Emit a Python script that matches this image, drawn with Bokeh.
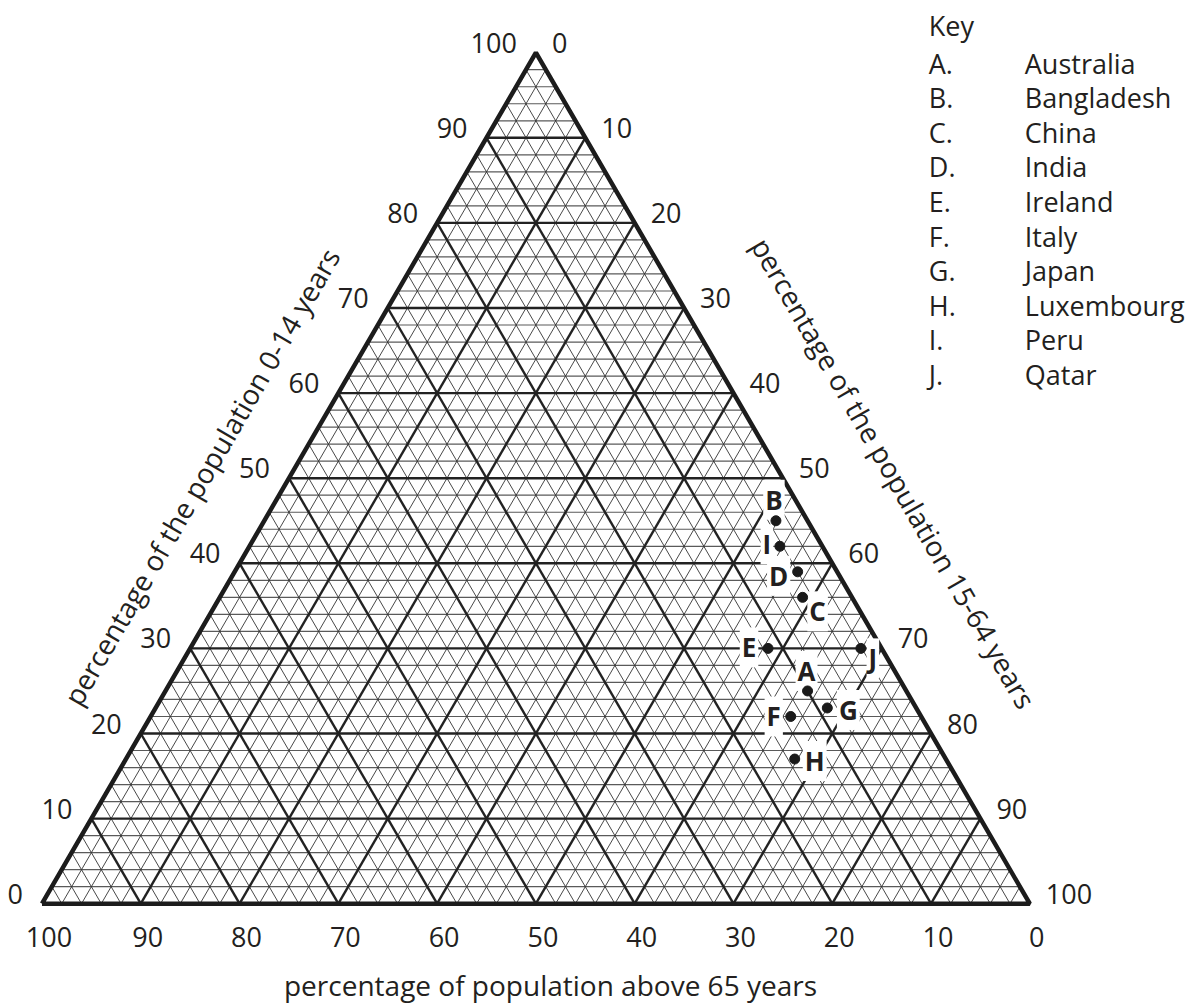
import numpy as np
from bokeh.plotting import figure
from bokeh.models import Range1d, ColumnDataSource
from bokeh.core.properties import value
from bokeh.embed import file_html
from bokeh.resources import INLINE

# ---------------- data ----------------
codes = ["A", "B", "C", "D", "E", "F", "G", "H", "I", "J"]
countries = ["Australia", "Bangladesh", "China", "India", "Ireland",
             "Italy", "Japan", "Luxembourg", "Peru", "Qatar"]
pct_0_14 = [25, 45, 36, 39, 30, 22, 23, 17, 42, 30]
pct_15_64 = [65, 51.8, 59, 57, 58.5, 64.8, 68, 67.7, 53.7, 67.9]
pct_65_plus = [10, 3.2, 5, 4, 11.5, 13.2, 9, 15.3, 4.3, 2.1]

tick_values = [0, 10, 20, 30, 40, 50, 60, 70, 80, 90, 100]
tick_labels = [str(v) for v in tick_values]

title_left = "percentage of the population 0-14 years"
title_right = "percentage of the population 15-64 years"
title_bottom = "percentage of population above 65 years"
key_title = "Key"

# ---------------- layout / style ----------------
FONT = value("Open Sans")
INK = "#231f20"
W, H = 1196, 1003
X0, XS = 41.5, 9.878      # page px of base-left vertex, px per base unit
Y0, YS = 903.2, 8.51      # page px of base line, px per height unit

def dx(px):
    return (px - X0) / XS

def dy(py):
    return (Y0 - py) / YS

# label offsets in screen px (dx, dy) for point letters
label_offsets = {"A": (-1, -20), "B": (-2, -21), "C": (15, 14), "D": (-19, 4),
                 "E": (-19, -1), "F": (-17, 0), "G": (21, 2), "H": (20, 2),
                 "I": (-13, -2), "J": (12, 10)}

p = figure(width=W, height=H,
           x_range=Range1d(dx(0), dx(W)),
           y_range=Range1d(dy(H), dy(0)),
           x_axis_type=None, y_axis_type=None,
           output_backend="svg", toolbar_location=None, min_border=0)
p.grid.visible = False
p.outline_line_color = None
p.background_fill_color = "white"
p.border_fill_color = "white"

# ---------------- ternary grid ----------------
minor_vals = [v for v in range(2, 100, 2) if v % 10]
major_vals = list(range(10, 100, 10))

def lines_a(vals):   # constant 0-14 share (horizontal)
    return [[v / 2, 100 - v / 2] for v in vals], [[v, v] for v in vals]

def lines_b(vals):   # constant 15-64 share (parallel to left side)
    return [[v, 50 + v / 2] for v in vals], [[0, 100 - v] for v in vals]

def lines_c(vals):   # constant 65+ share (parallel to right side)
    return [[100 - v, (100 - v) / 2] for v in vals], [[0, 100 - v] for v in vals]

xs, ys = lines_a(minor_vals)
p.multi_line(xs, ys, line_color="#5a5a5a", line_width=1.2)
for fn in (lines_b, lines_c):
    xs, ys = fn(minor_vals)
    p.multi_line(xs, ys, line_color="#333333", line_width=0.9)
for fn in (lines_a, lines_b, lines_c):
    xs, ys = fn(major_vals)
    p.multi_line(xs, ys, line_color="#222222", line_width=2.4)

p.line([0, 100, 50, 0], [0, 0, 100, 0], line_color="#1c1c1c",
       line_width=4.5, line_join="bevel")

# ---------------- tick labels ----------------
tick_kw = dict(text_font=FONT, text_font_size="27px", text_color=INK,
               text_baseline="middle")
p.text(x=[v / 2 for v in tick_values], y=tick_values, text=tick_labels,
       text_align="right", x_offset=-19, y_offset=-10, **tick_kw)
p.text(x=[50 + v / 2 for v in tick_values], y=[100 - v for v in tick_values],
       text=tick_labels, text_align="left", x_offset=16, y_offset=-10, **tick_kw)
p.text(x=[100 - v for v in tick_values], y=[0] * len(tick_values),
       text=tick_labels, text_align="center", x_offset=7, y_offset=33.5, **tick_kw)

# ---------------- axis titles ----------------
title_kw = dict(text_font=FONT, text_font_size="28px", text_color=INK,
                text_align="center", text_baseline="middle")
p.text(x=[dx(201)], y=[dy(476)], text=[title_left], angle=np.pi / 3, **title_kw)
p.text(x=[dx(893.5)], y=[dy(472.5)], text=[title_right], angle=-np.pi / 3, **title_kw)
p.text(x=[dx(550)], y=[dy(984)], text=[title_bottom], **title_kw)

# ---------------- points ----------------
px = [b + a / 2 for a, b in zip(pct_0_14, pct_15_64)]
py = list(pct_0_14)
src = ColumnDataSource(dict(
    x=px, y=py, code=codes, country=countries,
    ox=[label_offsets[c][0] for c in codes],
    oy=[label_offsets[c][1] for c in codes]))

p.text(x="x", y="y", text="code", x_offset="ox", y_offset="oy", source=src,
       text_font=FONT, text_font_size="26px", text_font_style="bold",
       text_color=INK, text_align="center", text_baseline="middle",
       background_fill_color="white", padding=2)
p.scatter(x="x", y="y", source=src, size=10, marker="circle",
          fill_color="#1a1a1a", line_color="#1a1a1a")

# ---------------- key ----------------
key_kw = dict(text_font=FONT, text_font_size="27px", text_color=INK,
              text_align="left", text_baseline="middle")
row_mid = [62.5 + 34.6 * i for i in range(len(codes))]
p.text(x=[dx(928.3)], y=[dy(25)], text=[key_title], **key_kw)
p.text(x=[dx(928.3)] * len(codes), y=[dy(m) for m in row_mid],
       text=[c + "." for c in codes], **key_kw)
p.text(x=[dx(1024.3)] * len(codes), y=[dy(m) for m in row_mid],
       text=countries, **key_kw)

open("out.html", "w").write(file_html(p, INLINE))
